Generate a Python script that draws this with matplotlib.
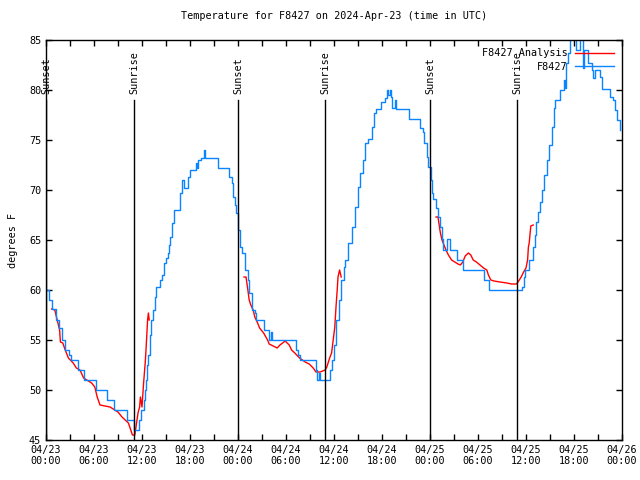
import matplotlib
matplotlib.use('Agg')
import matplotlib.pyplot as plt
import numpy as np

# observed temperature, hours since 04/23 00:00 UTC
obs_hours = [0.0, 0.4, 0.8, 1.2, 1.6, 2.0, 2.4, 2.9, 3.1, 4.0, 4.8, 6.25, 7.6, 8.5, 10.1, 11.0,
             11.6, 11.9, 12.2, 12.4, 12.5, 12.65, 12.8, 12.95, 13.1, 13.4, 13.6, 13.8, 14.2, 14.5,
             14.7, 15.0, 15.2, 15.4, 15.55, 15.8, 16.0, 16.8, 17.0, 17.2, 17.8, 18.0, 18.7, 18.85,
             19.0, 19.4, 19.7, 19.9, 21.5, 22.9, 23.2, 23.4, 23.6, 23.75, 24.0, 24.25, 24.5, 24.9,
             25.2, 25.4, 25.7, 26.1, 26.3, 27.2, 27.9, 28.1, 28.3, 31.2, 31.5, 31.75, 33.75, 33.9,
             34.1, 34.3, 35.5, 35.8, 36.0, 36.2, 36.3, 36.6, 36.9, 37.2, 37.4, 37.8, 38.2, 38.6,
             39.0, 39.3, 39.6, 39.9, 40.2, 40.8, 41.0, 41.2, 41.9, 42.4, 42.6, 42.8, 43.0, 43.1,
             43.3, 43.6, 43.8, 45.4, 46.75, 47.1, 47.3, 47.6, 47.8, 48.1, 48.3, 48.4, 48.8, 49.0,
             49.25, 49.5, 49.6, 50.1, 50.5, 51.4, 52.1, 54.7, 55.4, 59.5, 59.7, 59.9, 60.4, 60.9,
             61.1, 61.3, 61.5, 61.75, 62.0, 62.25, 62.6, 62.9, 63.2, 63.5, 63.6, 64.25, 64.75, 64.9,
             65.0, 65.3, 65.5, 66.3, 66.75, 67.1, 67.25, 67.7, 68.2, 68.4, 68.6, 69.25, 69.5, 70.5,
             70.9, 71.1, 71.4, 71.7]
obs_temp = [60.0, 59.0, 58.1, 57.0, 56.2, 55.0, 54.0, 53.5, 53.0, 52.0, 51.0, 50.0, 49.0, 48.0, 47.0, 46.0,
            47.0, 48.0, 49.0, 50.0, 51.0, 52.5, 53.5, 55.5, 57.0, 58.0, 59.3, 60.3, 61.0, 61.5,
            62.7, 63.2, 63.7, 64.5, 65.3, 66.7, 68.0, 69.7, 71.0, 70.2, 71.3, 72.0, 72.7, 72.2,
            73.0, 73.2, 74.0, 73.2, 72.2, 71.3, 70.7, 69.3, 68.5, 67.7, 66.0, 64.3, 63.7, 62.0,
            61.0, 59.7, 58.0, 57.7, 57.0, 56.0, 55.0, 55.8, 55.0, 54.0, 53.5, 53.0, 52.0, 51.0,
            51.7, 51.0, 52.0, 53.0, 54.5, 56.0, 57.0, 59.0, 61.0, 62.3, 63.0, 64.7, 66.3, 68.3,
            70.3, 71.7, 73.0, 74.7, 75.1, 76.3, 77.7, 78.1, 78.8, 79.2, 80.0, 79.5, 80.0, 79.3,
            78.2, 79.0, 78.1, 77.1, 76.2, 75.8, 74.7, 73.3, 72.3, 71.0, 69.7, 69.1, 68.2, 67.3,
            66.3, 65.1, 64.0, 65.1, 64.0, 63.0, 62.0, 61.0, 60.0, 60.3, 61.3, 62.0, 63.0, 64.3,
            65.5, 66.8, 67.8, 68.8, 70.0, 71.5, 73.0, 74.5, 76.3, 78.2, 79.0, 80.0, 81.0, 80.2,
            82.7, 83.7, 85.5, 84.0, 85.5, 82.2, 84.0, 82.7, 82.0, 81.2, 82.0, 81.3, 80.1, 79.3,
            79.0, 78.0, 77.0, 76.0]

# analysis, one run per night
ana1_hours = [0.7, 1.1, 1.4, 1.7, 1.8, 2.1, 2.4, 2.8, 3.4, 3.8, 4.25, 4.7, 5.1, 5.7, 6.1, 6.4, 6.75,
              8.0, 8.6, 9.0, 9.5, 9.9, 10.3, 10.6, 10.8, 11.1, 11.25, 11.5, 11.7, 11.8, 12.0, 12.2,
              12.4, 12.5, 12.7, 12.8, 12.9]
ana1_temp = [58.1, 58.0, 57.0, 56.0, 54.8, 54.7, 54.0, 53.2, 52.7, 52.2, 52.0, 51.2, 51.0, 50.7, 50.3, 49.3, 48.5,
             48.3, 48.0, 47.8, 47.3, 47.0, 46.7, 46.0, 45.5, 45.5, 46.3, 47.7, 48.3, 49.3, 48.3, 50.7,
             52.7, 54.0, 57.0, 57.7, 57.0]
ana2_hours = [24.75, 25.0, 25.2, 25.4, 25.6, 25.9, 26.1, 26.4, 26.7, 27.2, 27.7, 27.9, 28.4, 28.9, 29.25,
              29.9, 30.4, 30.7, 31.1, 31.7, 32.4, 32.9, 33.4, 33.75, 34.25, 34.9, 35.1, 35.5, 35.7,
              35.9, 36.1, 36.25, 36.4, 36.5, 36.7, 36.9]
ana2_temp = [61.3, 61.3, 60.2, 59.0, 58.5, 58.0, 57.3, 56.8, 56.2, 55.7, 55.0, 54.6, 54.4, 54.2, 54.5,
             54.9, 54.5, 54.0, 53.7, 53.2, 52.8, 52.6, 52.2, 51.8, 51.8, 52.0, 52.3, 53.3, 53.7,
             55.0, 56.3, 58.3, 60.0, 61.3, 62.0, 61.3]
ana3_hours = [48.75, 49.0, 49.2, 49.3, 49.5, 49.75, 50.0, 50.3, 50.7, 51.1, 51.5, 51.8, 52.1, 52.4, 52.8,
              53.1, 53.4, 53.8, 54.25, 54.7, 55.1, 55.3, 55.6, 56.0, 56.75, 57.6, 58.2, 58.8, 59.0,
              59.4, 59.7, 60.0, 60.2, 60.3, 60.4, 60.6, 60.9]
ana3_temp = [67.3, 67.3, 66.2, 65.7, 65.0, 64.5, 64.0, 63.5, 63.0, 62.8, 62.6, 62.5, 62.8, 63.4, 63.7,
             63.5, 63.0, 62.8, 62.5, 62.2, 62.0, 61.5, 61.0, 60.9, 60.8, 60.7, 60.6, 60.6, 60.8,
             61.3, 61.8, 62.2, 63.0, 64.3, 64.7, 66.4, 66.5]

sun_hours = [0.0, 11.0, 24.0, 34.9, 48.0, 58.9]
sun_labels = ['Sunset', 'Sunrise', 'Sunset', 'Sunrise', 'Sunset', 'Sunrise']

tick_labels = ['04/23\n00:00', '04/23\n06:00', '04/23\n12:00', '04/23\n18:00',
               '04/24\n00:00', '04/24\n06:00', '04/24\n12:00', '04/24\n18:00',
               '04/25\n00:00', '04/25\n06:00', '04/25\n12:00', '04/25\n18:00',
               '04/26\n00:00']

plt.rcParams['font.family'] = 'DejaVu Sans Mono'
plt.rcParams['font.size'] = 7.3

fig = plt.figure(figsize=(6.4, 4.8), dpi=100)
ax = fig.add_axes([46 / 640, 40 / 480, 576 / 640, 400 / 480])

red = '#ff0000'
blue = '#0a84ff'
first = True
for h, t in [(ana1_hours, ana1_temp), (ana2_hours, ana2_temp), (ana3_hours, ana3_temp)]:
    ax.plot(h, t, color=red, lw=1, label='F8427 Analysis' if first else None)
    first = False
ax.plot(obs_hours, obs_temp, color=blue, lw=1, drawstyle='steps-post', label='F8427')

for h, lab in zip(sun_hours, sun_labels):
    ax.axvline(h, ymin=0, ymax=0.85, color='black', lw=1)
    ax.text(h, 79.6, lab, rotation=90, ha='center', va='bottom', fontsize=7.3)

ax.set_xlim(0, 72)
ax.set_ylim(45, 85)
ax.set_xticks(np.arange(0, 73, 6))
ax.set_xticklabels(tick_labels)
ax.set_xticks(np.arange(0, 73, 3), minor=True)
ax.set_yticks(np.arange(45, 86, 5))
ax.tick_params(which='both', direction='in', top=True, right=True, length=4, width=1)
for s in ax.spines.values():
    s.set_linewidth(1)

ax.set_ylabel('degrees F', labelpad=8)
ax.set_title('Temperature for F8427 on 2024-Apr-23 (time in UTC)', fontsize=7.3, pad=15)
ax.legend(loc='upper right', frameon=False, markerfirst=False, handlelength=3.8,
          borderaxespad=0.4, labelspacing=0.35, fontsize=7.3)

fig.savefig('out.png', dpi=100)
